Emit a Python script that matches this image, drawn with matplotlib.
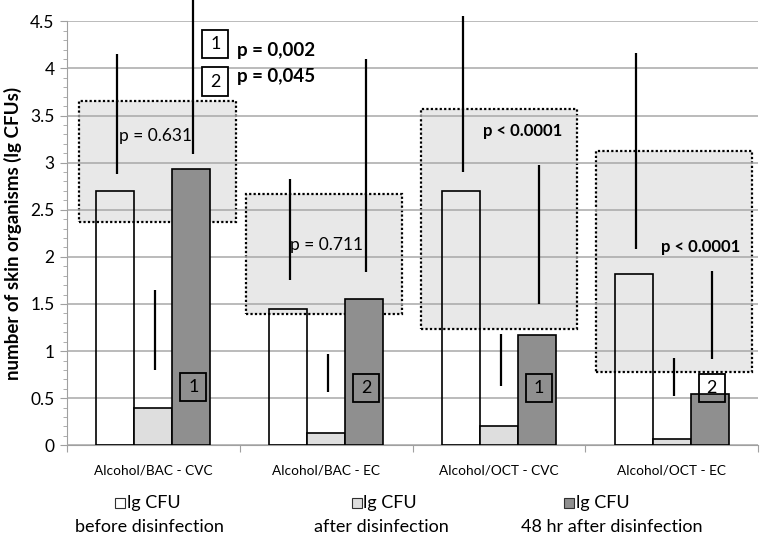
import matplotlib
matplotlib.use("Agg")
import matplotlib.pyplot as plt
from matplotlib.patches import Rectangle
from matplotlib.ticker import MultipleLocator
import numpy as np

plt.rcParams['font.family'] = ['Lato', 'DejaVu Sans']

categories = ["Alcohol/BAC - CVC", "Alcohol/BAC - EC", "Alcohol/OCT - CVC", "Alcohol/OCT - EC"]
before = [2.70, 1.45, 2.70, 1.82]
after = [0.40, 0.13, 0.21, 0.07]
after48 = [2.93, 1.55, 1.17, 0.545]

before_lo = [2.88, 1.75, 2.90, 2.08]
before_hi = [4.15, 2.83, 4.56, 4.16]
after_lo = [0.80, 0.57, 0.63, 0.52]
after_hi = [1.645, 0.97, 1.18, 0.93]
after48_lo = [3.09, 1.84, 1.50, 0.92]
after48_hi = [4.78, 4.10, 2.97, 1.85]

box_lo = [2.37, 1.39, 1.23, 0.78]
box_hi = [3.65, 2.67, 3.57, 3.12]
box_left = [-0.43, -0.465, -0.453, -0.44]
box_right = [0.476, 0.44, 0.45, 0.463]

p_labels = ["p = 0.631", "p = 0.711", "p < 0.0001", "p < 0.0001"]
p_bold = [False, False, True, True]
p_x = [0.013, 0.003, 0.135, 0.168]
p_y = [3.28, 2.13, 3.34, 2.10]

marker_labels = ["1", "2", "1", "2"]
marker_y = [0.62, 0.605, 0.605, 0.605]
legend_top = ["1", "2"]
legend_top_y = [4.26, 3.86]
legend_top_text = ["p = 0,002", "p = 0,045"]
legend_top_text_y = [4.19, 3.91]

legend_labels = ["lg CFU", "lg CFU", "lg CFU"]
legend_sub = ["before disinfection", "after disinfection", "48 hr after disinfection"]
colors = ["white", "#dedede", "#8f8f8f"]

fig = plt.figure(figsize=(7.6, 5.41), dpi=100)
ax = fig.add_axes([67/760, 95.7/541, 691/760, 424/541])

x = np.arange(len(categories))
w = 0.22

# shaded dotted boxes
for i in range(len(categories)):
    r = Rectangle((x[i] + box_left[i], box_lo[i]), box_right[i] - box_left[i], box_hi[i] - box_lo[i],
                  facecolor="#e8e8e8", edgecolor="black", linestyle=(0, (1, 1)), lw=1.6, zorder=1)
    ax.add_patch(r)

ax.bar(x - w, before, w, facecolor="none", edgecolor="black", lw=1.2, zorder=3)
ax.bar(x, after, w, facecolor=colors[1], edgecolor="black", lw=1.2, zorder=3)
ax.bar(x + w, after48, w, facecolor=colors[2], edgecolor="black", lw=1.2, zorder=3)

off = 0.012
ax.vlines(x - w + off, before_lo, before_hi, color="black", lw=1.6, zorder=5, clip_on=False)
ax.vlines(x + off, after_lo, after_hi, color="black", lw=1.6, zorder=5, clip_on=False)
ax.vlines(x + w + off, after48_lo, after48_hi, color="black", lw=1.6, zorder=5, clip_on=False)

sq_w = 0.15
sq_h = 0.30
for i in range(len(categories)):
    ax.text(x[i] + p_x[i], p_y[i], p_labels[i], fontsize=12.5 if not p_bold[i] else 12,
            fontweight="bold" if p_bold[i] else "normal", ha="center", va="center", zorder=6)
    cx = x[i] + w + 0.012
    ax.add_patch(Rectangle((cx - sq_w / 2, marker_y[i] - sq_h / 2), sq_w, sq_h, facecolor="none",
                           edgecolor="black", lw=1.3, zorder=6))
    ax.text(cx, marker_y[i], marker_labels[i], fontsize=13, ha="center", va="center", zorder=6)

for j in range(2):
    cx = 0.359
    yy = legend_top_y[j]
    ax.add_patch(Rectangle((cx - sq_w / 2, yy - sq_h / 2), sq_w, sq_h, facecolor="white",
                           edgecolor="black", lw=1.3, zorder=6))
    ax.text(cx, yy, legend_top[j], fontsize=13, ha="center", va="center", zorder=7)
    ax.text(0.483, legend_top_text_y[j], legend_top_text[j], fontsize=13.5, fontweight="bold",
            ha="left", va="center", zorder=6)

ax.set_xlim(-0.5, 3.5)
ax.set_ylim(0, 4.5)
ax.yaxis.set_major_locator(MultipleLocator(0.5))
ax.yaxis.set_minor_locator(MultipleLocator(0.1))
ax.set_yticks(np.arange(0, 4.51, 0.5))
ax.set_yticklabels(["0", "0.5", "1", "1.5", "2", "2.5", "3", "3.5", "4", "4.5"], fontsize=12.5)
ax.set_xticks(np.arange(-0.5, 3.51, 1.0))
ax.set_xticklabels([])
ax.set_xticks(x, minor=True)
ax.set_xticklabels(categories, minor=True, fontsize=9.8)
ax.tick_params(axis="x", which="minor", length=0, pad=14)
ax.tick_params(axis="x", which="major", length=5, color="#a0a0a0", direction="out")
ax.tick_params(axis="y", which="major", length=5, color="#a0a0a0", pad=4)
ax.tick_params(axis="y", which="minor", length=3, color="#a0a0a0")
ax.yaxis.grid(True, which="major", color="#a8a8a8", lw=1.1, zorder=4)
ax.set_axisbelow(False)
for s in ["top", "right"]:
    ax.spines[s].set_visible(False)
ax.spines["left"].set_color("#a0a0a0")
ax.spines["bottom"].set_color("#a0a0a0")
ax.set_ylabel("number of skin organisms (lg CFUs)", fontsize=13.5, fontweight="bold", labelpad=6)

# legend
leg_sq_x = [115, 352, 564]
leg_txt_x = [127, 363, 576]
leg_sub_x = [149, 381, 612]
for k in range(3):
    fig.patches.append(Rectangle((leg_sq_x[k] / 760, 1 - 508 / 541), 10 / 760, 10 / 541,
                                 transform=fig.transFigure, facecolor=colors[k],
                                 edgecolor="#303030", lw=0.8))
    fig.text(leg_txt_x[k] / 760, 1 - 503 / 541, legend_labels[k], fontsize=13, ha="left", va="center")
    fig.text(leg_sub_x[k] / 760, 1 - 527 / 541, legend_sub[k], fontsize=13, ha="center", va="center")

fig.savefig("out.png", dpi=100)
